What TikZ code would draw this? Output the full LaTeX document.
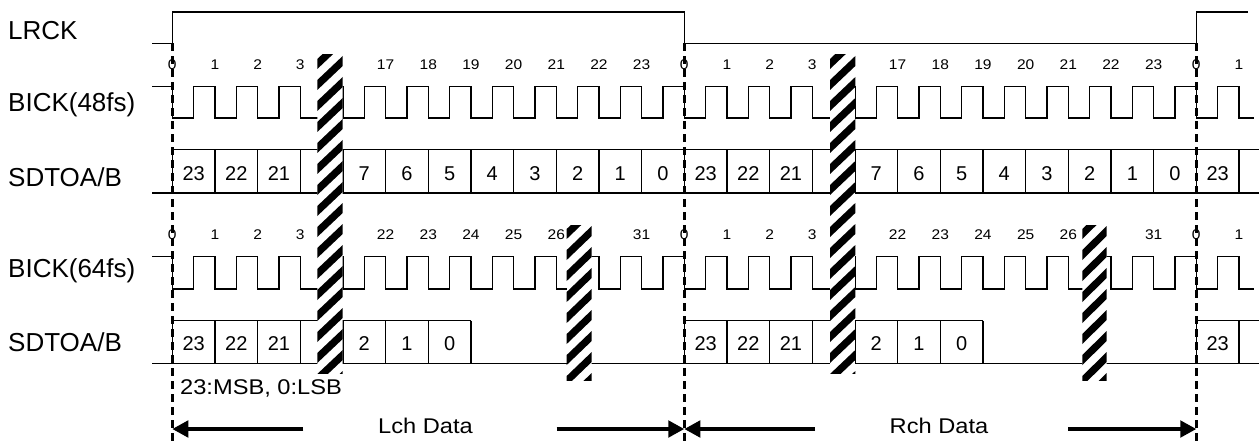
\documentclass[tikz,border=0pt]{standalone}
\usepackage{fontspec}
\setmainfont{Liberation Sans}
\newfontfamily\widefont[FakeStretch=1.11]{Liberation Sans}
\usetikzlibrary{arrows.meta}
\newcommand\drawhatch[4]{%
  \begin{scope}
    \clip (#1,#2) rectangle (#3,#4);
    \fill[white] (#1,#2) rectangle (#3,#4);
    \foreach \j in {-1,...,17} {
      \fill[black] (#1,{#2+\j*21+4}) -- (#3,{#2+\j*21-20}) -- (#3,{#2+\j*21-10}) -- (#1,{#2+\j*21+14}) -- cycle;
    }
  \end{scope}}
\begin{document}
\begin{tikzpicture}[x=1pt,y=-1pt,
  stwave/.style={line width=1.3pt},
  stguide/.style={line width=2.4pt, dash pattern=on 8pt off 5pt},
  stspan/.style={line width=3.5pt, -{Triangle[length=16pt,width=16.5pt]}},
  stsig/.style={inner sep=0pt, anchor=base west, font=\fontsize{26}{30}\selectfont},
  sttick/.style={inner sep=0pt, anchor=base, font=\widefont\fontsize{14}{16}\selectfont},
  stbit/.style={inner sep=0pt, anchor=base, font=\fontsize{20}{24}\selectfont},
  stnote/.style={inner sep=0pt, font=\widefont\fontsize{21.3}{25}\selectfont},
]
\useasboundingbox (0,0) rectangle (1259,441);
\def\pd{42.6667}
\def\Fa{172.3}
\def\Fb{684.3}
\def\Fc{1196.3}

% ---- signal names
\node[stsig] (nlrck) at (8,39.3) {LRCK};
\node[stsig] (nb48) at (8,111.7) {BICK(48fs)};
\node[stsig] (nd48) at (8,186.7) {SDTOA/B};
\node[stsig] (nb64) at (8,277.3) {BICK(64fs)};
\node[stsig] (nd64) at (8,351.7) {SDTOA/B};

% ---- LRCK
\draw[stwave] (152,43.3) -- (\Fa,43.3) -- (\Fa,12) -- (\Fb,12) -- (\Fb,43.3) -- (\Fc,43.3) -- (\Fc,12) -- (1248,12);

% ---- BICK 48fs
\draw[stwave] (152,86.5) -- (\Fa,86.5) -- (\Fa,118)
  \foreach \k in {0,...,24} { -- ({\Fa+(\k+0.5)*\pd},118) -- ({\Fa+(\k+0.5)*\pd},86.5) -- ({\Fa+(\k+1)*\pd},86.5) -- ({\Fa+(\k+1)*\pd},118) }
  -- (1254,118);

% ---- BICK 64fs
\draw[stwave] (152,256.7) -- (\Fa,256.7) -- (\Fa,289)
  \foreach \k in {0,...,24} { -- ({\Fa+(\k+0.5)*\pd},289) -- ({\Fa+(\k+0.5)*\pd},256.7) -- ({\Fa+(\k+1)*\pd},256.7) -- ({\Fa+(\k+1)*\pd},289) }
  -- (1254,289);

% ---- SDTO 48fs
\draw[stwave] (152,193) -- (1259,193);
\draw[stwave] (\Fa,149.5) -- (1259,149.5);
\foreach \k in {0,...,25} { \draw[stwave] ({\Fa+\k*\pd},149.5) -- ({\Fa+\k*\pd},193); }

% ---- SDTO 64fs
\draw[stwave] (152,363.3) -- (1259,363.3);
\draw[stwave] (\Fa,320.7) -- ({\Fa+7*\pd},320.7);
\draw[stwave] (\Fb,320.7) -- ({\Fb+7*\pd},320.7);
\draw[stwave] (\Fc,320.7) -- (1259,320.7);
\foreach \k in {0,...,7} {
  \draw[stwave] ({\Fa+\k*\pd},320.7) -- ({\Fa+\k*\pd},363.3);
  \draw[stwave] ({\Fb+\k*\pd},320.7) -- ({\Fb+\k*\pd},363.3);
}
\draw[stwave] (\Fc,320.7) -- (\Fc,363.3);
\draw[stwave] ({\Fc+\pd},320.7) -- ({\Fc+\pd},363.3);

% ---- bit values in boxes
\foreach \k/\t in {0/23,1/22,2/21,4/7,5/6,6/5,7/4,8/3,9/2,10/1,11/0} {
  \node[stbit] (ba\k) at ({\Fa+(\k+0.5)*\pd},180.3) {\t};
  \node[stbit] (bb\k) at ({\Fb+(\k+0.5)*\pd},180.3) {\t};
}
\node[stbit] (bc0) at ({\Fc+0.5*\pd},180.3) {23};
\foreach \k/\t in {0/23,1/22,2/21,4/2,5/1,6/0} {
  \node[stbit] (ca\k) at ({\Fa+(\k+0.5)*\pd},350.3) {\t};
  \node[stbit] (cb\k) at ({\Fb+(\k+0.5)*\pd},350.3) {\t};
}
\node[stbit] (cc0) at ({\Fc+0.5*\pd},350.3) {23};

% ---- bit numbers
\foreach \k/\t in {0/0,1/1,2/2,3/3,5/17,6/18,7/19,8/20,9/21,10/22,11/23} {
  \node[sttick] (ta\k) at ({\Fa+\k*\pd},69.3) {\t};
  \node[sttick] (tb\k) at ({\Fb+\k*\pd},69.3) {\t};
}
\node[sttick] (tc0) at (\Fc,69.3) {0};
\node[sttick] (tc1) at ({\Fc+\pd},69.3) {1};
\foreach \k/\t in {0/0,1/1,2/2,3/3,5/22,6/23,7/24,8/25,9/26,11/31} {
  \node[sttick] (ua\k) at ({\Fa+\k*\pd},239.3) {\t};
  \node[sttick] (ub\k) at ({\Fb+\k*\pd},239.3) {\t};
}
\node[sttick] (uc0) at (\Fc,239.3) {0};
\node[sttick] (uc1) at ({\Fc+\pd},239.3) {1};

% ---- frame guides
\coordinate (ga1) at (\Fa,43.3); \coordinate (ga2) at (\Fa,441);
\coordinate (gb1) at (\Fb,43.3); \coordinate (gb2) at (\Fb,441);
\coordinate (gc1) at (\Fc,43.3); \coordinate (gc2) at (\Fc,441);
\draw[stguide] (ga1) -- (ga2);
\draw[stguide] (gb1) -- (gb2);
\draw[stguide] (gc1) -- (gc2);

% ---- hatches
\drawhatch{317.3}{55}{342.7}{373}
\drawhatch{830}{55}{855.3}{373}
\drawhatch{566.7}{225}{591.7}{380}
\drawhatch{1082.3}{225}{1106.7}{380}

% ---- notes and spans
\node[stnote, anchor=base west] (msb) at (180,394.3) {23:MSB, 0:LSB};
\node[stnote, anchor=base] (lch) at (425.5,433.3) {Lch Data};
\node[stnote, anchor=base] (rch) at (939,433.3) {Rch Data};
\coordinate (la) at (303.3,429); \coordinate (lb) at (\Fa,429);
\coordinate (lc) at (556.7,429); \coordinate (ld) at (\Fb,429);
\coordinate (ra) at (815,429);   \coordinate (rb) at (\Fb,429);
\coordinate (rc) at (1068.3,429); \coordinate (rd) at (\Fc,429);
\draw[stspan] (la) -- (lb);
\draw[stspan] (lc) -- (ld);
\draw[stspan] (ra) -- (rb);
\draw[stspan] (rc) -- (rd);
\end{tikzpicture}
\end{document}
